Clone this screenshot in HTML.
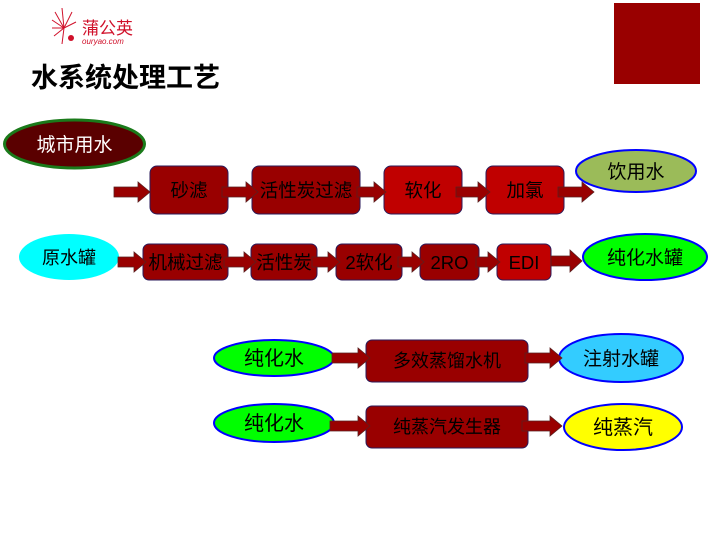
<!DOCTYPE html>
<html><head><meta charset="utf-8"><style>
html,body{margin:0;padding:0;background:#fff;}
svg text{font-family:"Liberation Sans","Noto Sans CJK SC",sans-serif;}
</style></head><body>
<svg width="718" height="537" viewBox="0 0 718 537" xmlns="http://www.w3.org/2000/svg">
<rect x="614" y="3" width="86" height="81" fill="#990000"/>
<!-- logo -->
<g stroke="#d0102a" stroke-width="1" fill="none">
<line x1="64" y1="28" x2="55" y2="12"/><line x1="64" y1="28" x2="52" y2="20"/><line x1="64" y1="28" x2="52" y2="28"/><line x1="64" y1="28" x2="54" y2="36"/><line x1="64" y1="28" x2="72" y2="12"/><line x1="64" y1="28" x2="62" y2="8"/><line x1="64" y1="28" x2="76" y2="22"/><line x1="64" y1="28" x2="62" y2="44"/>
</g>
<circle cx="71" cy="38" r="3" fill="#d0102a"/>
<text x="82" y="34" font-size="17" fill="#d0102a" font-family="Liberation Serif,'Noto Serif CJK SC',serif">蒲公英</text>
<text x="82" y="44" font-size="8" fill="#d0102a" font-style="italic">ouryao.com</text>
<text x="31" y="87" font-size="27" font-weight="bold" fill="#000">水系统处理工艺</text>
<!-- ellipses -->
<ellipse cx="74.5" cy="144" rx="70" ry="24" fill="#5a0000" stroke="#1a7a1a" stroke-width="3"/>
<text x="74.5" y="151" font-size="19" fill="#fff" text-anchor="middle">城市用水</text>
<ellipse cx="69" cy="257" rx="50" ry="23" fill="#00ffff"/>
<text x="69" y="264" font-size="18" fill="#000" text-anchor="middle">原水罐</text>
<ellipse cx="636" cy="171" rx="60" ry="21" fill="#9bbb59" stroke="#0000ff" stroke-width="2"/>
<text x="636" y="178" font-size="19" fill="#000" text-anchor="middle">饮用水</text>
<ellipse cx="645" cy="257" rx="62" ry="23" fill="#00ff00" stroke="#0000ff" stroke-width="2"/>
<text x="645" y="264" font-size="19" fill="#000" text-anchor="middle">纯化水罐</text>
<ellipse cx="274" cy="358" rx="60" ry="18" fill="#00ff00" stroke="#0000ff" stroke-width="2"/>
<text x="274" y="365" font-size="20" fill="#000" text-anchor="middle">纯化水</text>
<ellipse cx="621" cy="358" rx="62" ry="24" fill="#33ccff" stroke="#0000ff" stroke-width="2"/>
<text x="621" y="365" font-size="19" fill="#000" text-anchor="middle">注射水罐</text>
<ellipse cx="274" cy="423" rx="60" ry="19" fill="#00ff00" stroke="#0000ff" stroke-width="2"/>
<text x="274" y="430" font-size="20" fill="#000" text-anchor="middle">纯化水</text>
<ellipse cx="623" cy="427" rx="59" ry="23" fill="#ffff00" stroke="#0000ff" stroke-width="2"/>
<text x="623" y="434" font-size="20" fill="#000" text-anchor="middle">纯蒸汽</text>
<!-- boxes -->
<g stroke="#2a1a5a" stroke-width="1">
<rect x="150" y="166" width="78" height="48" rx="7" fill="#990000"/>
<rect x="252" y="166" width="108" height="48" rx="7" fill="#990000"/>
<rect x="384" y="166" width="78" height="48" rx="7" fill="#c00000"/>
<rect x="486" y="166" width="78" height="48" rx="7" fill="#c00000"/>
<rect x="143" y="244" width="85" height="36" rx="6" fill="#990000"/>
<rect x="251" y="244" width="66" height="36" rx="6" fill="#990000"/>
<rect x="336" y="244" width="66" height="36" rx="6" fill="#990000"/>
<rect x="420" y="244" width="59" height="36" rx="6" fill="#990000"/>
<rect x="497" y="244" width="54" height="36" rx="6" fill="#c00000"/>
<rect x="366" y="340" width="162" height="42" rx="6" fill="#990000"/>
<rect x="366" y="406" width="162" height="42" rx="6" fill="#990000"/>
</g>
<g font-size="18.5" fill="#000" text-anchor="middle">
<text x="189" y="197">砂滤</text>
<text x="306" y="197">活性炭过滤</text>
<text x="423" y="197">软化</text>
<text x="525" y="197">加氯</text>
<text x="185.5" y="269">机械过滤</text>
<text x="284" y="269">活性炭</text>
<text x="369" y="269">2软化</text>
<text x="449.5" y="269">2RO</text>
<text x="524" y="269">EDI</text>
<text x="447" y="367" font-size="18">多效蒸馏水机</text>
<text x="447" y="433" font-size="18">纯蒸汽发生器</text>
</g>
<!-- arrows -->
<g fill="#990000" stroke="#5a2020" stroke-width="0.8">
<polygon points="114,187 138,187 138,182 150,192 138,202 138,197 114,197"/>
<polygon points="222,187 246,187 246,182 258,192 246,202 246,197 222,197"/>
<polygon points="357,187 374,187 374,182 386,192 374,202 374,197 357,197"/>
<polygon points="456,187 478,187 478,182 490,192 478,202 478,197 456,197"/>
<polygon points="558,187 582,187 582,182 594,192 582,202 582,197 558,197"/>
<polygon points="118,257 134,257 134,252 146,262 134,272 134,267 118,267"/>
<polygon points="224,257 244,257 244,252 256,262 244,272 244,267 224,267"/>
<polygon points="312,257 328,257 328,252 340,262 328,272 328,267 312,267"/>
<polygon points="398,257 412,257 412,252 424,262 412,272 412,267 398,267"/>
<polygon points="476,257 488,257 488,252 500,262 488,272 488,267 476,267"/>
<polygon points="551,256 570,256 570,250 582,261 570,272 570,266 551,266"/>
<polygon points="332,353 358,353 358,348 370,358 358,368 358,363 332,363"/>
<polygon points="525,353 550,353 550,348 562,358 550,368 550,363 525,363"/>
<polygon points="330,421 358,421 358,416 370,426 358,436 358,431 330,431"/>
<polygon points="522,421 550,421 550,416 562,426 550,436 550,431 522,431"/>
</g>
</svg>
</body></html>
